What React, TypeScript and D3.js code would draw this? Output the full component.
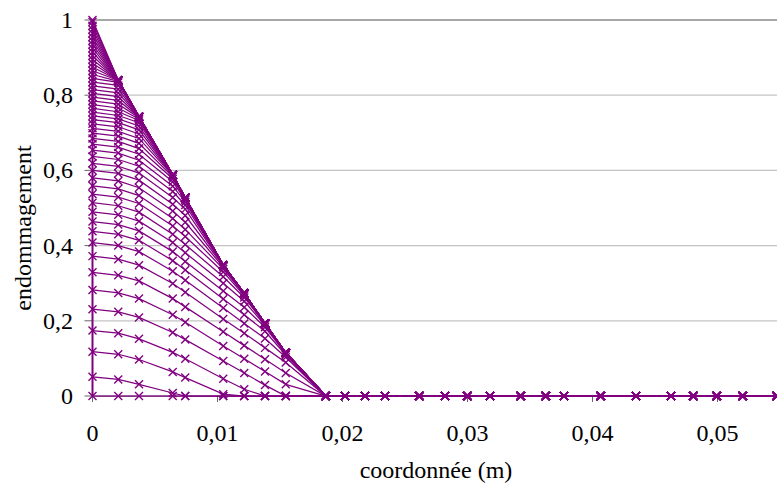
import React from 'react';
import * as d3 from 'd3';

// node coordinates (m) in the damaged zone
const nodeX = [0, 0.00206, 0.00372, 0.00642, 0.00742, 0.01046, 0.01214, 0.0138, 0.01546, 0.01866];
// remaining nodes, where damage stays zero
const tailX = [0.0202, 0.0218, 0.0234, 0.02614, 0.0282, 0.02998, 0.0318, 0.03426, 0.03626, 0.03772,
  0.04066, 0.04348, 0.04628, 0.04806, 0.04994, 0.05202, 0.05474];
const tailDamage = 0;

// damage profiles at the nodes of nodeX, one row per load step
const profiles = [
  [0, 0, 0, 0, 0, 0, 0, 0, 0, 0],
  [0.051, 0.044, 0.031, 0.008, 0, 0, 0, 0, 0, 0],
  [0.118, 0.111, 0.097, 0.064, 0.049, 0.005, 0, 0, 0, 0],
  [0.174, 0.167, 0.152, 0.116, 0.099, 0.046, 0.018, 0, 0, 0],
  [0.231, 0.224, 0.209, 0.169, 0.150, 0.093, 0.061, 0.029, 0, 0],
  [0.282, 0.274, 0.259, 0.216, 0.196, 0.133, 0.099, 0.065, 0.031, 0],
  [0.329, 0.321, 0.306, 0.259, 0.237, 0.171, 0.134, 0.098, 0.061, 0],
  [0.372, 0.364, 0.348, 0.299, 0.276, 0.205, 0.167, 0.128, 0.089, 0],
  [0.408, 0.400, 0.384, 0.332, 0.308, 0.234, 0.193, 0.153, 0.103, 0],
  [0.438, 0.430, 0.414, 0.360, 0.335, 0.258, 0.216, 0.172, 0.109, 0],
  [0.464, 0.456, 0.439, 0.384, 0.358, 0.279, 0.236, 0.183, 0.112, 0],
  [0.490, 0.482, 0.465, 0.408, 0.381, 0.300, 0.252, 0.188, 0.114, 0],
  [0.514, 0.506, 0.489, 0.430, 0.403, 0.317, 0.262, 0.191, 0.115, 0],
  [0.537, 0.529, 0.512, 0.452, 0.424, 0.330, 0.267, 0.192, 0.115, 0],
  [0.559, 0.551, 0.533, 0.472, 0.443, 0.338, 0.270, 0.193, 0.115, 0],
  [0.580, 0.572, 0.554, 0.492, 0.462, 0.343, 0.272, 0.193, 0.115, 0],
  [0.600, 0.592, 0.574, 0.510, 0.480, 0.346, 0.273, 0.193, 0.115, 0],
  [0.619, 0.611, 0.593, 0.528, 0.497, 0.347, 0.273, 0.193, 0.115, 0],
  [0.637, 0.629, 0.611, 0.544, 0.508, 0.348, 0.273, 0.193, 0.115, 0],
  [0.654, 0.646, 0.627, 0.558, 0.516, 0.348, 0.273, 0.193, 0.115, 0],
  [0.670, 0.662, 0.643, 0.570, 0.521, 0.348, 0.273, 0.193, 0.115, 0],
  [0.685, 0.677, 0.658, 0.578, 0.524, 0.348, 0.273, 0.193, 0.115, 0],
  [0.699, 0.691, 0.672, 0.583, 0.526, 0.348, 0.273, 0.193, 0.115, 0],
  [0.712, 0.704, 0.685, 0.586, 0.527, 0.348, 0.273, 0.193, 0.115, 0],
  [0.724, 0.716, 0.697, 0.587, 0.527, 0.348, 0.273, 0.193, 0.115, 0],
  [0.735, 0.727, 0.708, 0.588, 0.527, 0.348, 0.273, 0.193, 0.115, 0],
  [0.745, 0.737, 0.718, 0.588, 0.527, 0.348, 0.273, 0.193, 0.115, 0],
  [0.755, 0.746, 0.727, 0.588, 0.527, 0.348, 0.273, 0.193, 0.115, 0],
  [0.765, 0.756, 0.733, 0.588, 0.527, 0.348, 0.273, 0.193, 0.115, 0],
  [0.775, 0.766, 0.737, 0.588, 0.527, 0.348, 0.273, 0.193, 0.115, 0],
  [0.785, 0.776, 0.740, 0.588, 0.527, 0.348, 0.273, 0.193, 0.115, 0],
  [0.795, 0.786, 0.742, 0.588, 0.527, 0.348, 0.273, 0.193, 0.115, 0],
  [0.805, 0.796, 0.743, 0.588, 0.527, 0.348, 0.273, 0.193, 0.115, 0],
  [0.815, 0.806, 0.743, 0.588, 0.527, 0.348, 0.273, 0.193, 0.115, 0],
  [0.825, 0.816, 0.743, 0.588, 0.527, 0.348, 0.273, 0.193, 0.115, 0],
  [0.835, 0.826, 0.743, 0.588, 0.527, 0.348, 0.273, 0.193, 0.115, 0],
  [0.845, 0.834, 0.743, 0.588, 0.527, 0.348, 0.273, 0.193, 0.115, 0],
  [0.855, 0.837, 0.743, 0.588, 0.527, 0.348, 0.273, 0.193, 0.115, 0],
  [0.865, 0.839, 0.743, 0.588, 0.527, 0.348, 0.273, 0.193, 0.115, 0],
  [0.875, 0.840, 0.743, 0.588, 0.527, 0.348, 0.273, 0.193, 0.115, 0],
  [0.885, 0.840, 0.743, 0.588, 0.527, 0.348, 0.273, 0.193, 0.115, 0],
  [0.895, 0.840, 0.743, 0.588, 0.527, 0.348, 0.273, 0.193, 0.115, 0],
  [0.905, 0.840, 0.743, 0.588, 0.527, 0.348, 0.273, 0.193, 0.115, 0],
  [0.915, 0.840, 0.743, 0.588, 0.527, 0.348, 0.273, 0.193, 0.115, 0],
  [0.925, 0.840, 0.743, 0.588, 0.527, 0.348, 0.273, 0.193, 0.115, 0],
  [0.935, 0.840, 0.743, 0.588, 0.527, 0.348, 0.273, 0.193, 0.115, 0],
  [0.945, 0.840, 0.743, 0.588, 0.527, 0.348, 0.273, 0.193, 0.115, 0],
  [0.955, 0.840, 0.743, 0.588, 0.527, 0.348, 0.273, 0.193, 0.115, 0],
  [0.965, 0.840, 0.743, 0.588, 0.527, 0.348, 0.273, 0.193, 0.115, 0],
  [0.975, 0.840, 0.743, 0.588, 0.527, 0.348, 0.273, 0.193, 0.115, 0],
  [0.985, 0.840, 0.743, 0.588, 0.527, 0.348, 0.273, 0.193, 0.115, 0],
  [0.995, 0.840, 0.743, 0.588, 0.527, 0.348, 0.273, 0.193, 0.115, 0],
  [1.000, 0.840, 0.743, 0.588, 0.527, 0.348, 0.273, 0.193, 0.115, 0],
];

const xTicks = [0, 0.01, 0.02, 0.03, 0.04, 0.05];
const xTickLabels = ['0', '0,01', '0,02', '0,03', '0,04', '0,05'];
const yTicks = [0, 0.2, 0.4, 0.6, 0.8, 1];
const yTickLabels = ['0', '0,2', '0,4', '0,6', '0,8', '1'];
const xTitle = 'coordonnée (m)';
const yTitle = 'endommagement';

const W = 777;
const H = 489;
const PURPLE = '#800080';
const FAMILY = "'Times New Roman', 'Liberation Serif', Tinos, serif";

export default function App() {
  const x = d3.scaleLinear().domain([0, 0.055]).range([92.5, 780]);
  const y = d3.scaleLinear().domain([0, 1]).range([396, 20]);
  const allX = nodeX.concat(tailX);
  const series = profiles.map((row) =>
    allX.map((xv, i) => ({ x: xv, d: i < row.length ? row[i] : tailDamage }))
  );
  const line = d3
    .line<{ x: number; d: number }>()
    .x((p) => x(p.x))
    .y((p) => y(p.d));
  const m = 4;
  const ts: React.CSSProperties = { fontFamily: FAMILY, fontSize: '24px' };

  return (
    <div style={{ position: 'absolute', left: 0, top: 0, width: W, height: H, fontFamily: FAMILY }}>
      <svg width={W} height={H} style={{ display: 'block', fontFamily: FAMILY }} fontFamily={FAMILY}>
        <style>{`text { font-family: 'Times New Roman', 'Liberation Serif', serif; font-size: 24px; }`}</style>
        <rect x={0} y={0} width={W} height={H} fill="#fff" />
        {yTicks.map((t, i) =>
          t > 0 ? (
            <line
              key={'g' + i}
              x1={x(0)}
              x2={W}
              y1={y(t)}
              y2={y(t)}
              stroke={t === 1 ? '#8a8a8a' : '#c4c4c4'}
              strokeWidth={t === 1 ? 1.5 : 1.2}
            />
          ) : null
        )}
        {yTicks.map((t, i) => (
          <line key={'yt' + i} x1={x(0) - 8} x2={x(0)} y1={y(t)} y2={y(t)} stroke="#666" strokeWidth={1} />
        ))}
        {xTicks.map((t, i) => (
          <line key={'xt' + i} x1={x(t)} x2={x(t)} y1={y(0)} y2={y(0) + 6} stroke="#666" strokeWidth={1} />
        ))}
        <line x1={x(0)} x2={W} y1={y(0)} y2={y(0)} stroke="#666" strokeWidth={1} />

        {series.map((pts, si) => (
          <g key={'s' + si}>
            <path d={line(pts) || ''} fill="none" stroke={PURPLE} strokeWidth={1.25} />
            {pts.map((p, pi) => (
              <path
                key={pi}
                d={`M${x(p.x) - m},${y(p.d) - m}L${x(p.x) + m},${y(p.d) + m}M${x(p.x) - m},${y(p.d) + m}L${x(p.x) + m},${y(p.d) - m}`}
                stroke={PURPLE}
                strokeWidth={1.4}
                fill="none"
              />
            ))}
          </g>
        ))}
        <line x1={x(0)} x2={x(0)} y1={y(0)} y2={y(1)} stroke={PURPLE} strokeWidth={2} />

        {yTicks.map((t, i) => (
          <text key={'yl' + i} x={73} y={y(t) + 8} textAnchor="end" fill="#000" fontFamily={FAMILY} fontSize={24} style={ts}>
            {yTickLabels[i]}
          </text>
        ))}
        {xTicks.map((t, i) => (
          <text key={'xl' + i} x={x(t)} y={441} textAnchor="middle" fill="#000" fontFamily={FAMILY} fontSize={24} style={ts}>
            {xTickLabels[i]}
          </text>
        ))}
        <text x={436} y={478} textAnchor="middle" fill="#000" fontFamily={FAMILY} fontSize={24} style={ts}>
          {xTitle}
        </text>
        <text transform="translate(31,228) rotate(-90)" textAnchor="middle" fill="#000" fontFamily={FAMILY} fontSize={24} style={ts}>
          {yTitle}
        </text>
      </svg>
    </div>
  );
}
